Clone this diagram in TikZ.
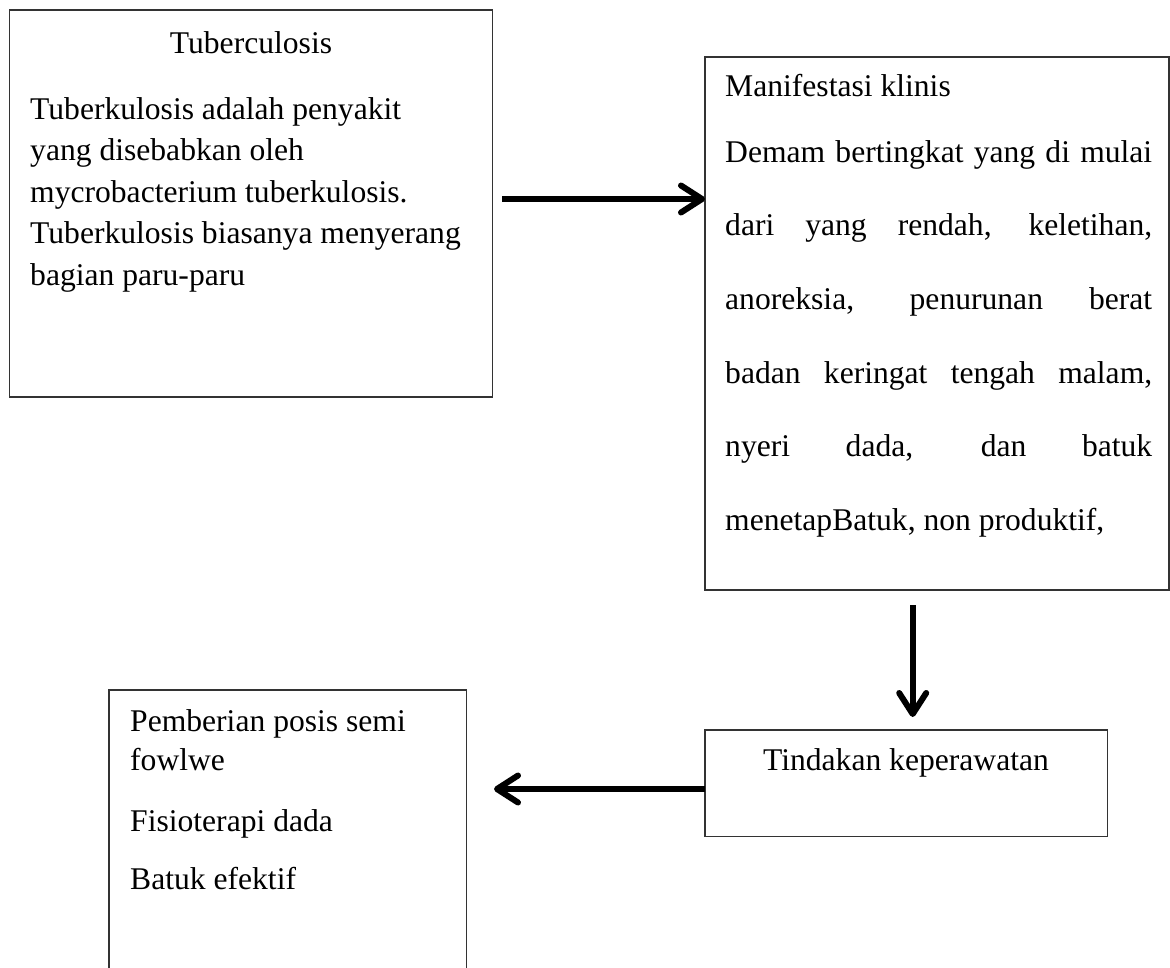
\documentclass[tikz,border=0pt]{standalone}
\usepackage{fontspec}
\setmainfont{Liberation Serif}
\usetikzlibrary{arrows.meta}
\begin{document}
\begin{tikzpicture}[x=1pt,y=-1pt,
  box/.style={draw=black!80,line width=1.2pt,inner sep=0pt,outer sep=0pt,rectangle,anchor=north west},
  txt/.style={anchor=base west,inner sep=0pt,font=\fontsize{31.6}{37}\selectfont},
  ctxt/.style={anchor=base,inner sep=0pt,font=\fontsize{31.6}{37}\selectfont},
  arr/.style={line width=6pt,-{Straight Barb[length=21pt,width=27pt,round]}}]
\useasboundingbox (0,0) rectangle (1170,967);
\clip (0,0) rectangle (1170,967);
% boxes
\node[box,minimum width=483.4pt,minimum height=387pt] (b1) at (9.3,10) {};
\node[box,minimum width=464pt,minimum height=533pt] (b2) at (705,57) {};
\node[box,minimum width=402.3pt,minimum height=106.7pt] (b3) at (705,730) {};
\node[box,minimum width=357.7pt,minimum height=400pt] (b4) at (109,690) {};
% box 1 text
\node[ctxt] (t1h) at (251,53) {Tuberculosis};
\node[txt] (t1a) at (30,119) {Tuberkulosis adalah penyakit};
\node[txt] (t1b) at (30,160.5) {yang disebabkan oleh};
\node[txt] (t1c) at (30,202) {mycrobacterium tuberkulosis.};
\node[txt] (t1d) at (30,243.5) {Tuberkulosis biasanya menyerang};
\node[txt] (t1e) at (30,285) {bagian paru-paru};
% box 2 text
\node[txt] (t2h) at (725,96) {Manifestasi klinis};
\node[txt] (t2a) at (725,162) {\makebox[427pt][s]{Demam bertingkat yang di mulai}};
\node[txt] (t2b) at (725,235) {\makebox[427pt][s]{dari yang rendah, keletihan,}};
\node[txt] (t2c) at (725,309) {\makebox[427pt][s]{anoreksia, penurunan berat}};
\node[txt] (t2d) at (725,383) {\makebox[427pt][s]{badan keringat tengah malam,}};
\node[txt] (t2e) at (725,456) {\makebox[427pt][s]{nyeri dada, dan batuk}};
\node[txt] (t2f) at (725,530) {menetapBatuk, non produktif,};
% box 3 text
\node[ctxt] (t3) at (906,770) {Tindakan keperawatan};
% box 4 text
\node[txt] (t4a) at (130,731) {Pemberian posis semi};
\node[txt] (t4b) at (130,770) {fowlwe};
\node[txt] (t4c) at (130,831) {Fisioterapi dada};
\node[txt] (t4d) at (130,889) {Batuk efektif};
% connectors
\coordinate (r1) at (502,199);
\draw[arr] (r1) -- (r1 -| b2.west);
\coordinate (d1) at (912.7,605);
\coordinate (d2) at (912.7,717);
\draw[arr] (d1) -- (d2);
\coordinate (l1) at (494,789);
\draw[arr] (b3.west |- l1) -- (l1);
\end{tikzpicture}
\end{document}
